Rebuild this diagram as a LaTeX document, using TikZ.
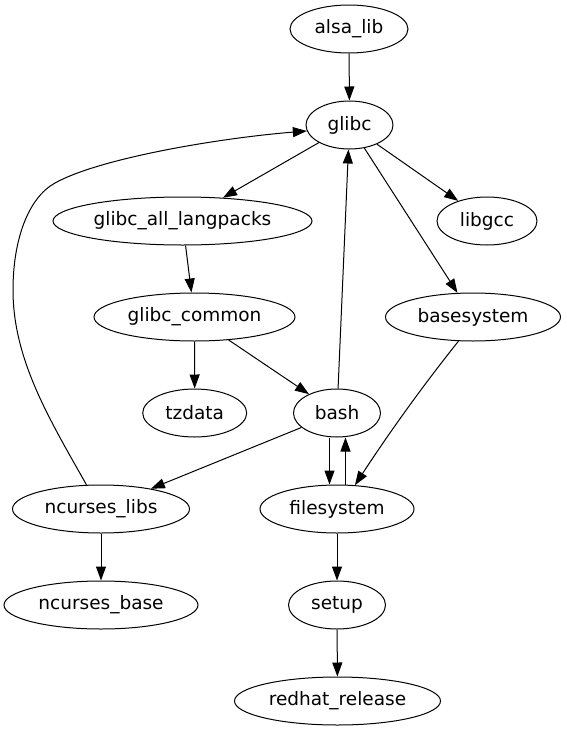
\documentclass[tikz,border=0pt]{standalone}
\usepackage{fontspec}
\setmainfont{DejaVu Sans}
\usetikzlibrary{arrows.meta,shapes.geometric}
\begin{document}
\begin{tikzpicture}[x=1pt,y=-1pt,
  pkg/.style={draw, ellipse, line width=1pt, inner sep=0pt, minimum height=48pt,
              font=\fontsize{18.5}{22}\selectfont},
  edge/.style={line width=1pt, -{Triangle[length=14pt,width=10pt]}}]
\useasboundingbox (0,0) rectangle (566,731);

\node[pkg, minimum width=118pt] (alsa) at (349,29) {alsa\_lib};
\node[pkg, minimum width=87pt] (glibc) at (349.5,125) {glibc};
\node[pkg, minimum width=259pt] (gal) at (182.5,221) {glibc\_all\_langpacks};
\node[pkg, minimum width=100pt] (libgcc) at (487,221) {libgcc};
\node[pkg, minimum width=201pt] (gcommon) at (194.5,317) {glibc\_common};
\node[pkg, minimum width=175pt] (basesystem) at (473,317) {basesystem};
\node[pkg, minimum width=104pt] (tzdata) at (194.7,413) {tzdata};
\node[pkg, minimum width=87pt] (bash) at (337,413) {bash};
\node[pkg, minimum width=177pt] (nlibs) at (101,509) {ncurses\_libs};
\node[pkg, minimum width=154pt] (filesystem) at (337,509) {filesystem};
\node[pkg, minimum width=194pt] (nbase) at (101,605) {ncurses\_base};
\node[pkg, minimum width=97pt] (setup) at (337,605) {setup};
\node[pkg, minimum width=206pt] (redhat) at (337.5,701) {redhat\_release};

\draw[edge] (alsa) -- (glibc);
\draw[edge] (glibc) -- (gal);
\draw[edge] (glibc) -- (libgcc);
\draw[edge] (glibc) -- (basesystem);
\draw[edge] (gal) -- (gcommon);
\draw[edge] (gcommon) -- (tzdata);
\draw[edge] (gcommon) -- (bash);
\draw[edge] (bash) -- (glibc);
\draw[edge] (bash) -- (nlibs);
\draw[edge] ([xshift=-7.5pt]bash.south) -- ([xshift=-7.5pt]filesystem.north);
\draw[edge] ([xshift=8.5pt]filesystem.north) -- ([xshift=8.5pt]bash.south);
\draw[edge] (basesystem.239) .. controls (421,388) and (387,436) .. (filesystem.53);
\draw[edge] (nlibs) -- (nbase);
\draw[edge] (filesystem) -- (setup);
\draw[edge] (setup) -- (redhat);
\draw[edge] (nlibs.121) .. controls (50,420) and (13,360) .. (13,290)
  .. controls (13,240) and (28,198) .. (55,183)
  .. controls (100,158) and (220,138) .. (glibc.188);
\end{tikzpicture}
\end{document}
